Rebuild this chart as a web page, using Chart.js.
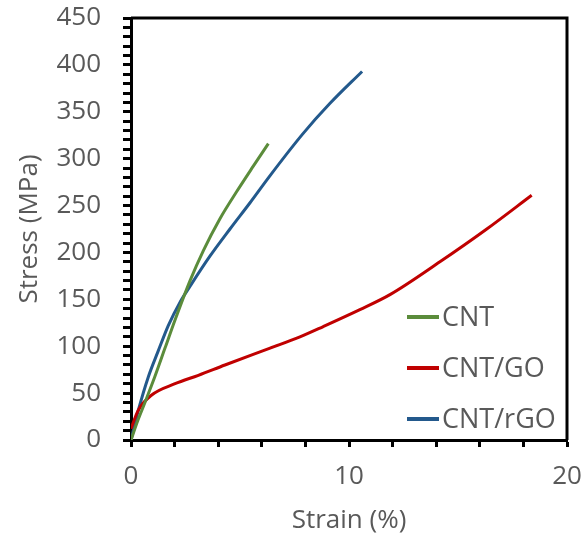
<!DOCTYPE html>
<html>
<head>
<meta charset="utf-8">
<script src="https://cdn.jsdelivr.net/npm/chart.js@4.4.1/dist/chart.umd.min.js"></script>
<style>
  body { margin: 0; background: #fff; }
  #wrap { width: 587px; height: 541px; }
</style>
</head>
<body>
<div id="wrap"><canvas id="chart" width="587" height="541"></canvas></div>
<script>
// stress-strain curves
const seriesNames = ["CNT", "CNT/GO", "CNT/rGO"];
const seriesColors = ["#5b8c3b", "#c00000", "#23598c"];

const cntStrain = [0, 0.3, 0.64, 1.1, 1.56, 2.02, 2.71, 3.32, 4.08, 4.85, 5.61, 6.3];
const cntStress = [0, 20, 40, 68, 98, 128, 170, 202, 236, 265, 292, 316];

const goStrain = [0, 0.34, 0.95, 2.02, 3.09, 4.31, 6.38, 7.75, 8.82, 10.5, 11.88, 14.17, 16.32, 18.38];
const goStress = [12, 32, 48, 60, 69, 80, 98, 110, 121, 139, 155, 190, 225, 261];

const rgoStrain = [0, 0.34, 0.79, 1.25, 1.71, 2.25, 2.71, 3.62, 4.54, 5.46, 6.38, 7.9, 9.13, 10.6];
const rgoStress = [0, 32, 67, 95, 122, 147, 164, 196, 225, 253, 282, 327, 359, 393];

const xMajorLabels = [0, 10, 20];
const yMajorStep = 50;

function toPoints(xs, ys) {
    return xs.map((x, i) => ({ x: x, y: ys[i] }));
}

const labelColor = "#595959";
const fontName = "'Open Sans', 'Noto Sans', sans-serif";

// box around the plot + legend inside the plot area
const framePlugin = {
    id: "frame",
    afterDraw(chart) {
        const ctx = chart.ctx;
        const a = chart.chartArea;
        ctx.save();
        ctx.strokeStyle = "#000";
        ctx.lineWidth = 3;
        ctx.beginPath();
        ctx.moveTo(a.left, a.top);
        ctx.lineTo(a.right, a.top);
        ctx.lineTo(a.right, a.bottom);
        ctx.stroke();

        // legend
        ctx.font = "27px " + fontName;
        ctx.textBaseline = "middle";
        ctx.textAlign = "left";
        chart.data.datasets.forEach((ds, i) => {
            const y = a.bottom - 123 + i * 51;
            ctx.strokeStyle = ds.borderColor;
            ctx.lineWidth = 4;
            ctx.beginPath();
            ctx.moveTo(a.right - 160, y);
            ctx.lineTo(a.right - 128, y);
            ctx.stroke();
            ctx.fillStyle = labelColor;
            ctx.fillText(ds.label, a.right - 125, y + 1);
        });
        ctx.restore();
    }
};

const ctx = document.getElementById("chart").getContext("2d");
new Chart(ctx, {
    type: "line",
    data: {
        datasets: [
            { label: seriesNames[0], data: toPoints(cntStrain, cntStress), borderColor: seriesColors[0] },
            { label: seriesNames[1], data: toPoints(goStrain, goStress), borderColor: seriesColors[1] },
            { label: seriesNames[2], data: toPoints(rgoStrain, rgoStress), borderColor: seriesColors[2] }
        ]
    },
    options: {
        responsive: false,
        animation: false,
        layout: { padding: { top: 18, right: 20, left: 0, bottom: 0 } },
        elements: {
            line: { borderWidth: 3, fill: false, cubicInterpolationMode: "monotone" },
            point: { radius: 0 }
        },
        plugins: {
            legend: { display: false },
            tooltip: { enabled: false }
        },
        scales: {
            x: {
                type: "linear",
                min: 0,
                max: 20,
                afterFit(scale) {
                    scale.height = 101;
                    scale.paddingLeft = 0;
                    scale.paddingRight = 0;
                },
                border: { display: true, color: "#000", width: 3 },
                grid: { drawOnChartArea: false, drawTicks: true, tickLength: 7, tickColor: "#000", tickWidth: 3 },
                ticks: {
                    stepSize: 2,
                    autoSkip: false,
                    maxRotation: 0,
                    padding: 14,
                    color: labelColor,
                    font: { family: fontName, size: 26 },
                    callback: v => xMajorLabels.includes(v) ? String(v) : ""
                },
                title: {
                    display: true,
                    text: "Strain (%)",
                    color: labelColor,
                    font: { family: fontName, size: 26 },
                    padding: { top: 0, bottom: 5 }
                }
            },
            y: {
                type: "linear",
                min: 0,
                max: 450,
                afterFit(scale) {
                    scale.width = 131;
                    scale.paddingTop = 0;
                    scale.paddingBottom = 0;
                },
                border: { display: true, color: "#000", width: 3 },
                grid: { drawOnChartArea: false, drawTicks: true, tickLength: 8, tickColor: "#000", tickWidth: 3 },
                ticks: {
                    stepSize: 10,
                    autoSkip: false,
                    maxTicksLimit: 100,
                    padding: 22,
                    color: labelColor,
                    font: { family: fontName, size: 26 },
                    callback: v => v % yMajorStep === 0 ? String(v) : ""
                },
                title: {
                    display: true,
                    text: "Stress (MPa)",
                    color: labelColor,
                    font: { family: fontName, size: 26 },
                    padding: { top: 14, bottom: 0 }
                }
            }
        }
    },
    plugins: [framePlugin]
});
</script>
</body>
</html>
